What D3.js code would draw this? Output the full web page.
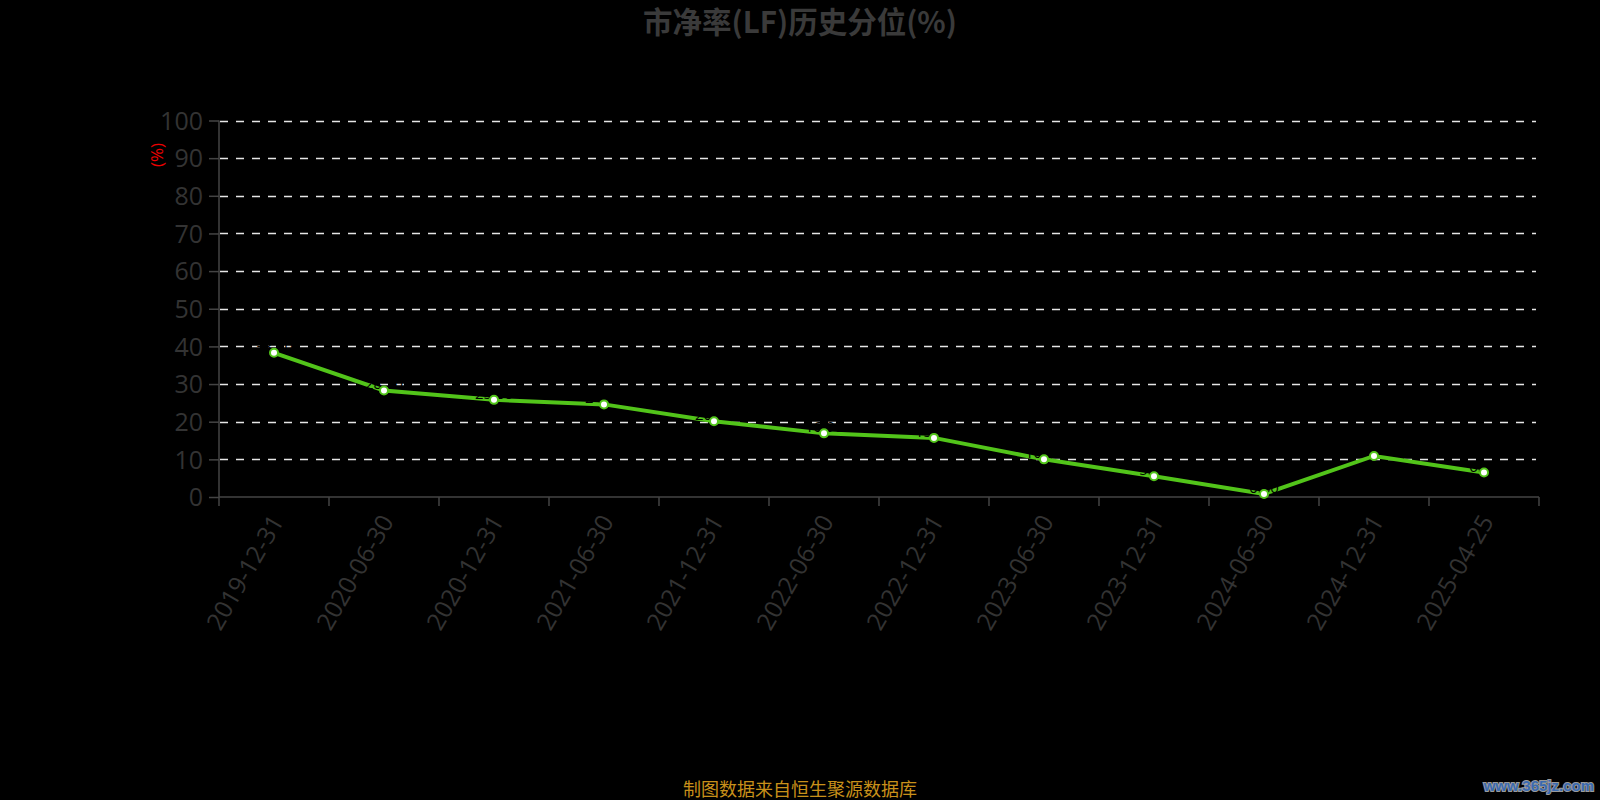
<!DOCTYPE html>
<html><head><meta charset="utf-8">
<script src="https://cdn.jsdelivr.net/npm/d3@7"></script>
<style>html,body{margin:0;padding:0;background:#000;}svg{display:block;}</style>
</head><body>
<svg id="c" width="1600" height="800"></svg>
<script>
const categories = ["2019-12-31","2020-06-30","2020-12-31","2021-06-30","2021-12-31","2022-06-30","2022-12-31","2023-06-30","2023-12-31","2024-06-30","2024-12-31","2025-04-25"];
const values = [38.3, 28.3, 25.8, 24.6, 20.1, 16.9, 15.7, 10.0, 5.5, 0.8, 10.9, 6.5];
const yTicks = [0,10,20,30,40,50,60,70,80,90,100];
const title = "市净率(LF)历史分位(%)";
const yLabel = "(%)";
const footer = "制图数据来自恒生聚源数据库";
const watermark = "www.365jz.com";

(function(){
const svg = d3.select("#c");
const font = "'Noto Sans CJK SC','Noto Sans',sans-serif";
const afont = "'Open Sans','Noto Sans',sans-serif";
const pL = 219, pR = 1539, pT = 120.5, pB = 497;
const x = d3.scaleBand().domain(categories).range([pL, pR]);
const y = d3.scaleLinear().domain([0,100]).range([pB, pT]);

svg.append("rect").attr("width",1600).attr("height",800).attr("fill","#000");

// title
svg.append("text").attr("x",800).attr("y",33).attr("text-anchor","middle")
  .attr("font-family",font).attr("font-size",29.5).attr("font-weight","bold").attr("fill","#3a3a3a").text(title);

// grid
svg.append("g").selectAll("line").data(yTicks.filter(d=>d>0)).join("line")
  .attr("x1",pL+1).attr("x2",1536).attr("y1",d=>Math.round(y(d))+0.5).attr("y2",d=>Math.round(y(d))+0.5)
  .attr("stroke","#e6e6e6").attr("stroke-width",1.5).attr("stroke-dasharray","8,8");

// y axis
const ya = svg.append("g").attr("transform",`translate(${pL},0)`)
  .call(d3.axisLeft(y).tickValues(yTicks).tickSize(10).tickPadding(6));
ya.selectAll("path,line").attr("stroke","#444").attr("stroke-width",1.5);
ya.select(".domain").attr("d",`M0,${pT}V${pB}`);
ya.selectAll("text").attr("font-family",afont).attr("font-size",25).attr("fill","#333").attr("dy","0.35em");

// x axis
const xa = svg.append("g").attr("transform",`translate(0,${pB})`)
  .call(d3.axisBottom(x).tickSize(0).tickFormat(""));
xa.selectAll("path").attr("stroke","#444").attr("stroke-width",1.5);
xa.select(".domain").attr("d",`M${pL},0H${pR}`);
const bounds = categories.map(c=>x(c)).concat([pR]);
svg.append("g").selectAll("line").data(bounds).join("line")
  .attr("x1",d=>d).attr("x2",d=>d).attr("y1",pB).attr("y2",pB+9)
  .attr("stroke","#444").attr("stroke-width",1.5);
svg.append("g").selectAll("text").data(categories).join("text")
  .attr("transform",d=>`translate(${x(d)+x.bandwidth()/2+3},${pB+20}) rotate(-60)`)
  .attr("text-anchor","end").attr("dy","0.35em")
  .attr("font-family",afont).attr("font-size",24.5).attr("fill","#333").text(d=>d);

// y label
svg.append("text").attr("transform","translate(157,155) rotate(-90)").attr("text-anchor","middle")
  .attr("dy","0.35em").attr("font-family",afont).attr("font-size",17).attr("fill","#e00").text(yLabel);

// line
const line = d3.line().x((d,i)=>x(categories[i])+x.bandwidth()/2).y(d=>y(d));
svg.append("path").datum(values).attr("d",line).attr("fill","none")
  .attr("stroke","#52c41a").attr("stroke-width",4);

// labels (black, as in reference)
svg.append("g").selectAll("text").data(values).join("text")
  .attr("x",(d,i)=>x(categories[i])+x.bandwidth()/2).attr("y",d=>y(d)-1)
  .attr("text-anchor","middle").attr("font-family",afont).attr("font-size",15).attr("fill","#000")
  .text(d=>d.toFixed(2));

// markers
svg.append("g").selectAll("circle").data(values).join("circle")
  .attr("cx",(d,i)=>x(categories[i])+x.bandwidth()/2).attr("cy",d=>y(d)).attr("r",4)
  .attr("fill","#fff").attr("stroke","#52c41a").attr("stroke-width",2);

// footer
svg.append("text").attr("x",800).attr("y",796).attr("text-anchor","middle")
  .attr("font-family",font).attr("font-size",18).attr("fill","#c8901a").text(footer);

// watermark
svg.append("text").attr("x",1594).attr("y",791).attr("text-anchor","end")
  .attr("font-family","'Liberation Sans',sans-serif").attr("font-size",15).attr("font-weight","bold")
  .attr("fill","#3a6ab0").attr("stroke","#9a9a9a").attr("stroke-width",2).attr("paint-order","stroke").text(watermark);
})();
</script>
</body></html>
